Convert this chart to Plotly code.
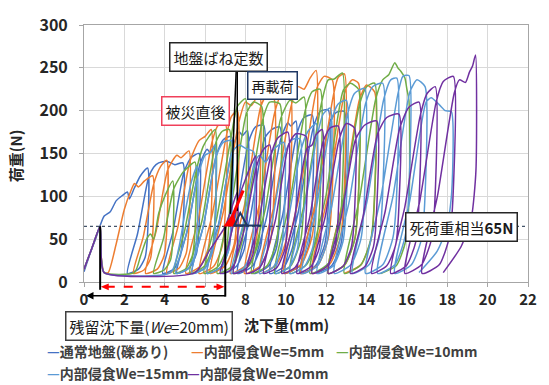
import plotly.graph_objects as go

# ---------------------------------------------------------------------------
# Cyclic loading curves: settlement (mm) vs. load (N)
# ---------------------------------------------------------------------------
names = ["通常地盤(礫あり)", "内部侵食We=5mm", "内部侵食We=10mm",
         "内部侵食We=15mm", "内部侵食We=20mm"]
colors = ["#4472C4", "#ED7D31", "#70AD47", "#5B9BD5", "#7030A0"]

normal_x = [0.00, 0.30, 0.60, 0.80, 1.00, 1.30, 1.60, 1.90, 2.15, 2.25, 2.50, 2.80, 3.15,
            3.17, 3.03, 2.70, 2.15, 2.65, 3.20, 3.45, 3.70, 4.10, 4.50, 4.90,
            4.92, 4.78, 4.45, 3.90, 4.40, 4.95, 5.30, 5.70,
            5.72, 5.57, 5.20, 4.60, 5.15, 5.75, 6.10, 6.25, 6.50,
            6.52, 6.36, 5.98, 5.35, 5.93, 6.55, 6.90, 7.30,
            7.32, 7.16, 6.76, 6.10, 6.70, 7.35, 7.70, 7.85, 8.10,
            8.12, 7.95, 7.54, 6.85, 7.48, 8.15, 8.50, 8.90,
            8.92, 8.74, 8.32, 7.60, 8.25, 8.95, 9.30, 9.70,
            9.72, 9.54, 9.12, 8.40, 9.05, 9.75, 10.10, 10.25, 10.50,
            10.52, 10.34, 9.92, 9.20, 9.85, 10.55, 10.90, 11.30,
            11.32, 11.14, 10.70, 9.95, 10.62, 11.35, 11.70, 12.10,
            12.12, 11.93, 11.47, 10.70, 11.40, 12.15, 12.50, 12.90,
            12.92, 12.73, 12.27, 11.50]
normal_y = [12, 33, 52, 66, 77, 82, 95, 101, 105, 97, 110, 124, 133,
            66, 29, 15, 10, 56, 122, 134, 139, 141, 137, 139,
            70, 31, 15, 10, 58, 128, 145, 150,
            75, 33, 16, 10, 63, 138, 155, 151, 160,
            80, 35, 16, 10, 67, 147, 166, 170,
            85, 37, 17, 10, 71, 156, 175, 171, 177,
            88, 39, 18, 10, 74, 163, 181, 183,
            92, 40, 18, 10, 77, 168, 178, 181,
            90, 40, 18, 10, 76, 167, 186, 182, 188,
            94, 41, 18, 10, 79, 173, 192, 195,
            98, 43, 19, 10, 82, 179, 199, 201,
            100, 44, 19, 10, 84, 185, 198, 199,
            100, 44, 19, 10]

we5_x = [0.00, 0.40, 0.80, 0.85, 1.00, 1.20, 1.60, 2.00, 2.30, 2.50, 2.70, 3.00, 3.40,
         3.42, 3.29, 2.97, 2.45, 2.93, 3.45, 3.80, 4.10,
         4.12, 3.97, 3.63, 3.05, 3.58, 4.15, 4.60, 4.80, 5.20,
         5.22, 5.07, 4.70, 4.10, 4.65, 5.25, 5.70, 6.00, 6.30,
         6.32, 6.15, 5.74, 5.05, 5.68, 6.35, 6.65, 7.00,
         7.02, 6.84, 6.42, 5.70, 6.35, 7.05, 7.30, 7.60,
         7.62, 7.44, 7.00, 6.25, 6.92, 7.65, 8.00, 8.30, 8.70,
         8.72, 8.53, 8.05, 7.25, 7.98, 8.75, 9.05, 9.40,
         9.42, 9.23, 8.75, 7.95, 8.68, 9.45, 9.80, 10.20,
         10.22, 10.02, 9.52, 8.70, 9.45, 10.25, 10.60, 10.90, 11.20, 11.50,
         11.52, 11.31, 10.78, 9.90, 10.70, 11.55, 11.90, 12.30,
         12.32, 12.11, 11.60, 10.75, 11.53, 12.35, 12.60, 12.90,
         12.92, 12.71, 12.18, 11.30, 12.10, 12.95, 13.30, 13.60,
         13.62, 13.42, 12.92, 12.10, 12.85, 13.65, 14.00, 14.40,
         14.42, 14.22, 13.72, 12.90]
we5_y = [15, 40, 65, 30, 11, 11, 45, 85, 105, 115, 111, 118, 124,
         62, 27, 14, 10, 52, 114, 135, 142,
         71, 31, 15, 10, 60, 131, 148, 145, 153,
         77, 34, 16, 10, 64, 141, 165, 170, 178,
         89, 39, 18, 10, 75, 164, 183, 185,
         93, 41, 18, 10, 78, 170, 193, 200,
         100, 44, 19, 10, 84, 184, 210, 206, 222,
         111, 49, 20, 10, 93, 204, 218, 215,
         108, 47, 19, 10, 90, 198, 220, 222,
         111, 49, 20, 10, 93, 204, 228, 225, 238, 247,
         124, 54, 21, 10, 104, 227, 240, 236,
         118, 52, 20, 10, 99, 217, 239, 243,
         122, 53, 21, 10, 102, 224, 236, 232,
         116, 51, 20, 10, 97, 213, 230, 222,
         111, 49, 20, 10]

we10_x = [0.00, 0.40, 0.80, 0.85, 1.00, 2.50, 2.80, 3.10, 3.30, 3.45, 3.70, 4.00, 4.40,
          4.42, 4.29, 3.97, 3.45, 3.93, 4.45, 4.90, 5.20, 5.50,
          5.52, 5.37, 5.03, 4.45, 4.98, 5.55, 5.90, 6.20, 6.50,
          6.52, 6.35, 5.94, 5.25, 5.88, 6.55, 6.85, 7.20,
          7.22, 7.05, 6.64, 5.95, 6.58, 7.25, 7.60, 8.00,
          8.02, 7.83, 7.37, 6.60, 7.30, 8.05, 8.40, 8.80,
          8.82, 8.63, 8.17, 7.40, 8.10, 8.85, 9.20, 9.70,
          9.72, 9.53, 9.07, 8.30, 9.00, 9.75, 10.20, 10.50, 10.90,
          10.92, 10.73, 10.25, 9.45, 10.18, 10.95, 11.30, 11.70,
          11.72, 11.52, 11.02, 10.20, 10.95, 11.75, 12.10, 12.40, 12.80,
          12.82, 12.61, 12.08, 11.20, 12.00, 12.85, 13.20, 13.60,
          13.62, 13.42, 12.92, 12.10, 12.85, 13.65, 14.00, 14.40,
          14.42, 14.22, 13.72, 12.90, 13.65, 14.45, 14.80, 15.10, 15.40,
          15.55, 15.70, 15.90, 16.00, 16.10,
          16.12, 15.93, 15.47, 14.70]
we10_y = [15, 40, 65, 30, 11, 11, 30, 50, 56, 50, 80, 100, 118,
          59, 26, 14, 10, 50, 109, 128, 135, 140,
          70, 31, 15, 10, 59, 129, 158, 170, 178,
          89, 39, 18, 10, 75, 164, 176, 178,
          89, 39, 18, 10, 75, 164, 205, 214,
          107, 47, 19, 10, 90, 197, 210, 205,
          103, 45, 19, 10, 86, 189, 210, 208,
          104, 46, 19, 10, 87, 191, 212, 209, 216,
          108, 48, 19, 10, 91, 199, 222, 225,
          113, 50, 20, 10, 95, 207, 236, 237, 244,
          122, 54, 21, 10, 102, 224, 232, 225,
          113, 50, 20, 10, 95, 207, 228, 232,
          116, 51, 20, 10, 97, 213, 236, 242, 256,
          250, 246, 238, 225, 212,
          106, 47, 19, 10]

we15_x = [0.00, 0.40, 0.80, 0.85, 1.00, 4.30, 4.70, 5.00, 5.30, 5.60,
          5.62, 5.47, 5.13, 4.55, 5.08, 5.65, 6.00, 6.30, 6.50,
          6.52, 6.36, 5.98, 5.35, 5.93, 6.55, 6.90, 7.30,
          7.32, 7.16, 6.76, 6.10, 6.70, 7.35, 7.70, 8.00, 8.40,
          8.42, 8.27, 7.90, 7.30, 7.85, 8.45, 8.70, 9.00, 9.40, 9.90,
          9.92, 9.76, 9.36, 8.70, 9.30, 9.95, 10.30, 10.70,
          10.72, 10.56, 10.16, 9.50, 10.10, 10.75, 11.10, 11.50,
          11.52, 11.34, 10.92, 10.20, 10.85, 11.55, 11.85, 12.20,
          12.22, 12.03, 11.57, 10.80, 11.50, 12.25, 12.60, 13.00,
          13.02, 12.83, 12.35, 11.55, 12.28, 13.05, 13.40, 13.90,
          13.92, 13.72, 13.22, 12.40, 13.15, 13.95, 14.30, 14.80,
          14.82, 14.62, 14.12, 13.30, 14.05, 14.85, 15.20, 15.50,
          15.52, 15.31, 14.80, 13.95, 14.72, 15.55, 15.80, 16.10,
          16.12, 15.91, 15.40, 14.55, 15.32, 16.15, 16.50, 16.90,
          16.92, 16.72, 16.22, 15.40, 16.15, 16.95, 17.20, 17.60, 17.90, 18.20,
          18.22, 18.00, 17.50, 16.60]
we15_y = [15, 40, 65, 30, 11, 11, 40, 80, 115, 135,
          68, 30, 15, 10, 57, 124, 148, 152, 160,
          80, 35, 16, 10, 67, 147, 163, 165,
          83, 36, 17, 10, 69, 152, 160, 156, 152,
          76, 33, 16, 10, 64, 140, 148, 140, 155, 163,
          82, 36, 17, 10, 68, 150, 166, 167,
          84, 37, 17, 10, 70, 154, 176, 185,
          93, 41, 18, 10, 78, 170, 196, 203,
          102, 45, 19, 10, 85, 187, 208, 212,
          106, 47, 19, 10, 89, 195, 220, 226,
          113, 50, 20, 10, 95, 208, 228, 232,
          116, 51, 20, 10, 97, 213, 236, 238,
          119, 52, 20, 10, 100, 219, 240, 241,
          120, 53, 20, 10, 101, 222, 236, 228,
          114, 50, 20, 10, 96, 210, 215, 207, 200, 199,
          105, 65, 36, 11]

we20_x = [0.00, 0.40, 0.80, 0.85, 1.00, 5.50, 6.25, 7.00, 7.30, 7.60,
          7.62, 7.50, 7.22, 6.75, 7.18, 7.65, 8.00, 8.25, 8.50,
          8.52, 8.37, 8.00, 7.40, 7.95, 8.55, 8.90, 9.20,
          9.22, 9.06, 8.68, 8.05, 8.63, 9.25, 9.60, 10.10,
          10.12, 9.96, 9.56, 8.90, 9.50, 10.15, 10.50, 11.00,
          11.02, 10.86, 10.46, 9.80, 10.40, 11.05, 11.30, 11.50, 11.80,
          11.82, 11.65, 11.24, 10.55, 11.18, 11.85, 12.20, 12.60,
          12.62, 12.44, 12.02, 11.30, 11.95, 12.65, 13.00, 13.40,
          13.42, 13.24, 12.82, 12.10, 12.75, 13.45, 13.90, 14.50,
          14.52, 14.34, 13.92, 13.20, 13.85, 14.55, 15.00, 15.60,
          15.62, 15.44, 15.00, 14.25, 14.92, 15.65, 16.10, 16.60,
          16.62, 16.43, 15.97, 15.20, 15.90, 16.65, 17.00, 17.40,
          17.42, 17.22, 16.72, 15.90, 16.65, 17.45, 17.80, 18.30,
          18.32, 18.11, 17.60, 16.75, 17.52, 18.35, 18.60, 18.90, 19.10, 19.25, 19.40,
          19.42, 19.20, 18.70, 17.80]
we20_y = [15, 40, 65, 30, 11, 11, 38, 65, 85, 105,
          53, 23, 13, 10, 44, 97, 120, 135, 147,
          74, 32, 15, 10, 62, 135, 155, 160,
          80, 35, 16, 10, 67, 147, 168, 175,
          88, 39, 17, 10, 74, 161, 173, 170,
          85, 37, 17, 10, 71, 156, 160, 172, 178,
          89, 39, 18, 10, 75, 164, 180, 182,
          91, 40, 18, 10, 76, 167, 185, 180,
          90, 40, 18, 10, 76, 166, 183, 188,
          94, 41, 18, 10, 79, 173, 192, 196,
          98, 43, 19, 10, 82, 180, 204, 210,
          105, 46, 19, 10, 88, 193, 220, 228,
          114, 50, 20, 10, 96, 210, 234, 240,
          120, 53, 20, 10, 101, 221, 236, 233, 245, 252, 265,
          130, 76, 42, 11]

series_x = [normal_x, we5_x, we10_x, we15_x, we20_x]
series_y = [normal_y, we5_y, we10_y, we15_y, we20_y]

dead_load = 65          # N, dead-load equivalent line
residual_start = 0.8    # mm, settlement before erosion
residual_end = 7.0      # mm, settlement after erosion (We=20mm)

x_ticks = list(range(0, 23, 2))
y_ticks = list(range(0, 301, 50))

# ---------------------------------------------------------------------------
W, H = 549, 385
L, R, T, B = 84, 533, 18, 282      # plot area in pixels


def fx(p):
    return (p - L) / (R - L)


def fy(p):
    return (B - p) / (B - T)


def dx(v):
    return v / 22.0


def dy(v):
    return v / 300.0


JP = "Noto Sans CJK JP, Noto Sans, sans-serif"

fig = go.Figure()
for xs, ys, nm, c in zip(series_x, series_y, names, colors):
    assert len(xs) == len(ys)
    fig.add_trace(go.Scatter(x=xs, y=ys, mode="lines", name=nm,
                             line=dict(color=c, width=1.5, shape="spline", smoothing=0.6),
                             showlegend=False, hoverinfo="skip"))

axis_common = dict(showgrid=True, gridcolor="#D9D9D9", gridwidth=1,
                   showline=True, linecolor="#A6A6A6", linewidth=1, mirror=True,
                   ticks="outside", ticklen=4, tickcolor="#A6A6A6",
                   zeroline=False, fixedrange=True)

fig.update_layout(
    width=W, height=H,
    margin=dict(l=L, r=W - R, t=T, b=H - B, pad=0),
    paper_bgcolor="white", plot_bgcolor="white",
    xaxis=dict(range=[0, 22], tickvals=x_ticks,
               tickfont=dict(family=JP, size=15, color="#262626", weight="bold"),
               **axis_common),
    yaxis=dict(range=[0, 300], tickvals=y_ticks, ticklabelstandoff=8,
               tickfont=dict(family=JP, size=16, color="#262626", weight="bold"),
               **axis_common),
    showlegend=False,
)

shapes = []
# dead-load dotted line
shapes.append(dict(type="line", xref="paper", yref="paper", x0=0, x1=1,
                   y0=dy(dead_load), y1=dy(dead_load), layer="above",
                   line=dict(color="#44546A", width=1.3, dash="dot")))
# residual settlement markers
shapes.append(dict(type="line", xref="paper", yref="paper",
                   x0=dx(residual_start), x1=dx(residual_start),
                   y0=dy(dead_load), y1=fy(290), layer="above",
                   line=dict(color="black", width=2)))
shapes.append(dict(type="line", xref="paper", yref="paper",
                   x0=dx(residual_end), x1=dx(residual_end),
                   y0=dy(dead_load), y1=fy(297), layer="above",
                   line=dict(color="black", width=2)))
# red dashed double arrow
ra_y = 287
shapes.append(dict(type="line", xref="paper", yref="paper",
                   x0=fx(106), x1=fx(221), y0=fy(ra_y), y1=fy(ra_y), layer="above",
                   line=dict(color="#FF0000", width=2, dash="dash")))


def tri(pts, fill, line_color, width=0):
    path = "M " + " L ".join(f"{fx(a)},{fy(b)}" for a, b in pts) + " Z"
    return dict(type="path", xref="paper", yref="paper", path=path, layer="above",
                fillcolor=fill, line=dict(color=line_color, width=width))


shapes.append(tri([(101, ra_y), (109, ra_y - 3.5), (109, ra_y + 3.5)], "#FF0000", "#FF0000"))
shapes.append(tri([(226, ra_y), (218, ra_y - 3.5), (218, ra_y + 3.5)], "#FF0000", "#FF0000"))

# leader lines from the spring-constant label
shapes.append(dict(type="line", xref="paper", yref="paper", x0=fx(238), y0=fy(63),
                   x1=fx(232), y1=fy(212), layer="above", line=dict(color="black", width=1.5)))
shapes.append(dict(type="line", xref="paper", yref="paper", x0=fx(239), y0=fy(63),
                   x1=fx(239), y1=fy(209), layer="above", line=dict(color="black", width=1.5)))
# spring-constant slope sketch
shapes.append(dict(type="line", xref="paper", yref="paper", x0=fx(245), y0=fy(188),
                   x1=fx(231), y1=fy(222), layer="above", line=dict(color="#FF0000", width=3)))
shapes.append(tri([(225, 225), (235, 211), (239, 225)], "#FF0000", "#FF0000"))
shapes.append(dict(type="line", xref="paper", yref="paper", x0=fx(236), y0=fy(224),
                   x1=fx(263), y1=fy(224), layer="above", line=dict(color="#1F3864", width=2)))
shapes.append(tri([(236, 224), (242, 211), (249, 224)], "rgba(0,0,0,0)", "#1F3864", 2))

fig.update_layout(shapes=shapes)

ann = []


def box(text, cx, cy, border, size=15):
    return dict(text=text, xref="paper", yref="paper", x=fx(cx), y=fy(cy),
                xanchor="center", yanchor="middle", showarrow=False,
                font=dict(family=JP, size=size, color="#1A1A1A"),
                bgcolor="white", bordercolor=border, borderwidth=1.5, borderpad=3)


ann.append(box("地盤ばね定数", 220, 51, "#262626"))
ann.append(box("再載荷", 275, 80, "#1F3864", 14))
ann.append(box("被災直後", 197, 106, "#F0405A"))
ann.append(box(f"死荷重相当<b>{dead_load}N</b>", 466, 226, "#262626"))
ann.append(box("残留沈下量(<i>We</i>=20mm)", 150, 327, "#404040"))

# black arrow for residual settlement (tail at x=7.0 mm, head near x=0)
ann.append(dict(text="", xref="paper", yref="paper", x=fx(86), y=fy(296),
                ax=227 - 86, ay=0, axref="pixel", ayref="pixel",
                showarrow=True, arrowhead=2, arrowsize=1, arrowwidth=1.5,
                arrowcolor="black"))

# axis titles
ann.append(dict(text="沈下量(mm)", xref="paper", yref="paper", x=fx(244), y=fy(326),
                xanchor="left", yanchor="middle", showarrow=False,
                font=dict(family=JP, size=15, color="#262626", weight="bold")))
ann.append(dict(text="荷重(N)", xref="paper", yref="paper", x=fx(15), y=fy(152),
                xanchor="center", yanchor="middle", showarrow=False, textangle=-90,
                font=dict(family=JP, size=15, color="#262626", weight="bold")))

# legend rows
legend_pos = [(45, 353), (190, 353), (337, 353), (45, 375), (186, 375)]
for (lx, ly), nm, c in zip(legend_pos, names, colors):
    ann.append(dict(text=f'<span style="color:{c}">—</span>{nm}', xref="paper",
                    yref="paper", x=fx(lx), y=fy(ly), xanchor="left", yanchor="middle",
                    showarrow=False,
                    font=dict(family=JP, size=14, color="#404040", weight="bold")))

fig.update_layout(annotations=ann)
fig.write_html("out.html")
